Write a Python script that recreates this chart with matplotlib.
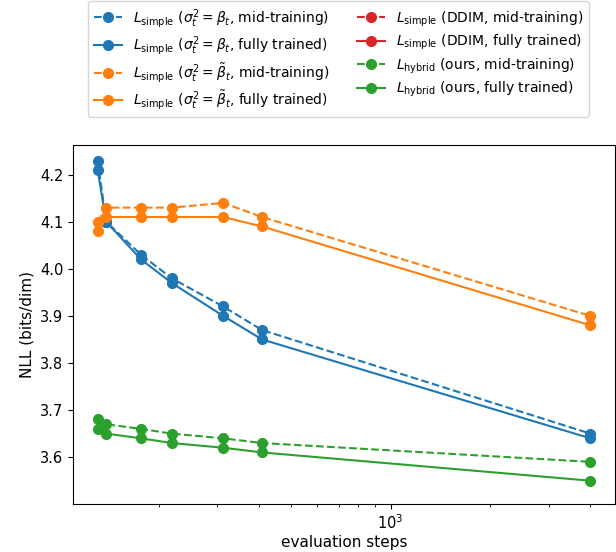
#!/usr/bin/env python3
# -*- coding: utf-8 -*-

"""
NLL against the number of evaluation steps, for several training objectives.
"""

### Import Space ###

import matplotlib
matplotlib.use("Agg")
import matplotlib.pyplot as plt

### Data ###

steps = [131, 139, 177, 219, 313, 410, 4000]

simple_beta_mid = [4.23, 4.10, 4.03, 3.98, 3.92, 3.87, 3.65]
simple_beta_full = [4.21, 4.10, 4.02, 3.97, 3.90, 3.85, 3.64]
simple_tilde_mid = [4.10, 4.13, 4.13, 4.13, 4.14, 4.11, 3.90]
simple_tilde_full = [4.08, 4.11, 4.11, 4.11, 4.11, 4.09, 3.88]
ddim_mid = []
ddim_full = []
hybrid_mid = [3.68, 3.67, 3.66, 3.65, 3.64, 3.63, 3.59]
hybrid_full = [3.66, 3.65, 3.64, 3.63, 3.62, 3.61, 3.55]

### Running Script Space ###

if __name__ == '__main__':
    fig = plt.figure(figsize=(6.16, 5.52), dpi=100)
    ax = fig.add_axes([73/616, 48/552, 542/616, 359/552])

    series = [
        (simple_beta_mid, "C0", "--", r"$L_{\mathrm{simple}}$ ($\sigma_t^2=\beta_t$, mid-training)"),
        (simple_beta_full, "C0", "-", r"$L_{\mathrm{simple}}$ ($\sigma_t^2=\beta_t$, fully trained)"),
        (simple_tilde_mid, "C1", "--", r"$L_{\mathrm{simple}}$ ($\sigma_t^2=\tilde{\beta}_t$, mid-training)"),
        (simple_tilde_full, "C1", "-", r"$L_{\mathrm{simple}}$ ($\sigma_t^2=\tilde{\beta}_t$, fully trained)"),
        (ddim_mid, "C3", "--", r"$L_{\mathrm{simple}}$ (DDIM, mid-training)"),
        (ddim_full, "C3", "-", r"$L_{\mathrm{simple}}$ (DDIM, fully trained)"),
        (hybrid_mid, "C2", "--", r"$L_{\mathrm{hybrid}}$ (ours, mid-training)"),
        (hybrid_full, "C2", "-", r"$L_{\mathrm{hybrid}}$ (ours, fully trained)"),
    ]
    for values, color, style, label in series:
        ax.plot(steps[:len(values)], values, linestyle=style, marker="o",
                markersize=7, color=color, label=label)

    ax.set_xscale("log")
    ax.set_ylim(3.5005, 4.263)
    ax.tick_params(labelsize=10.5)
    ax.set_xlabel("evaluation steps", fontsize=11, labelpad=2)
    ax.set_ylabel("NLL (bits/dim)", fontsize=11)
    ax.legend(ncol=2, loc="lower center", bbox_to_anchor=(0.49, 1.06),
              labelspacing=0.3)

    fig.savefig("out.png", dpi=100)
